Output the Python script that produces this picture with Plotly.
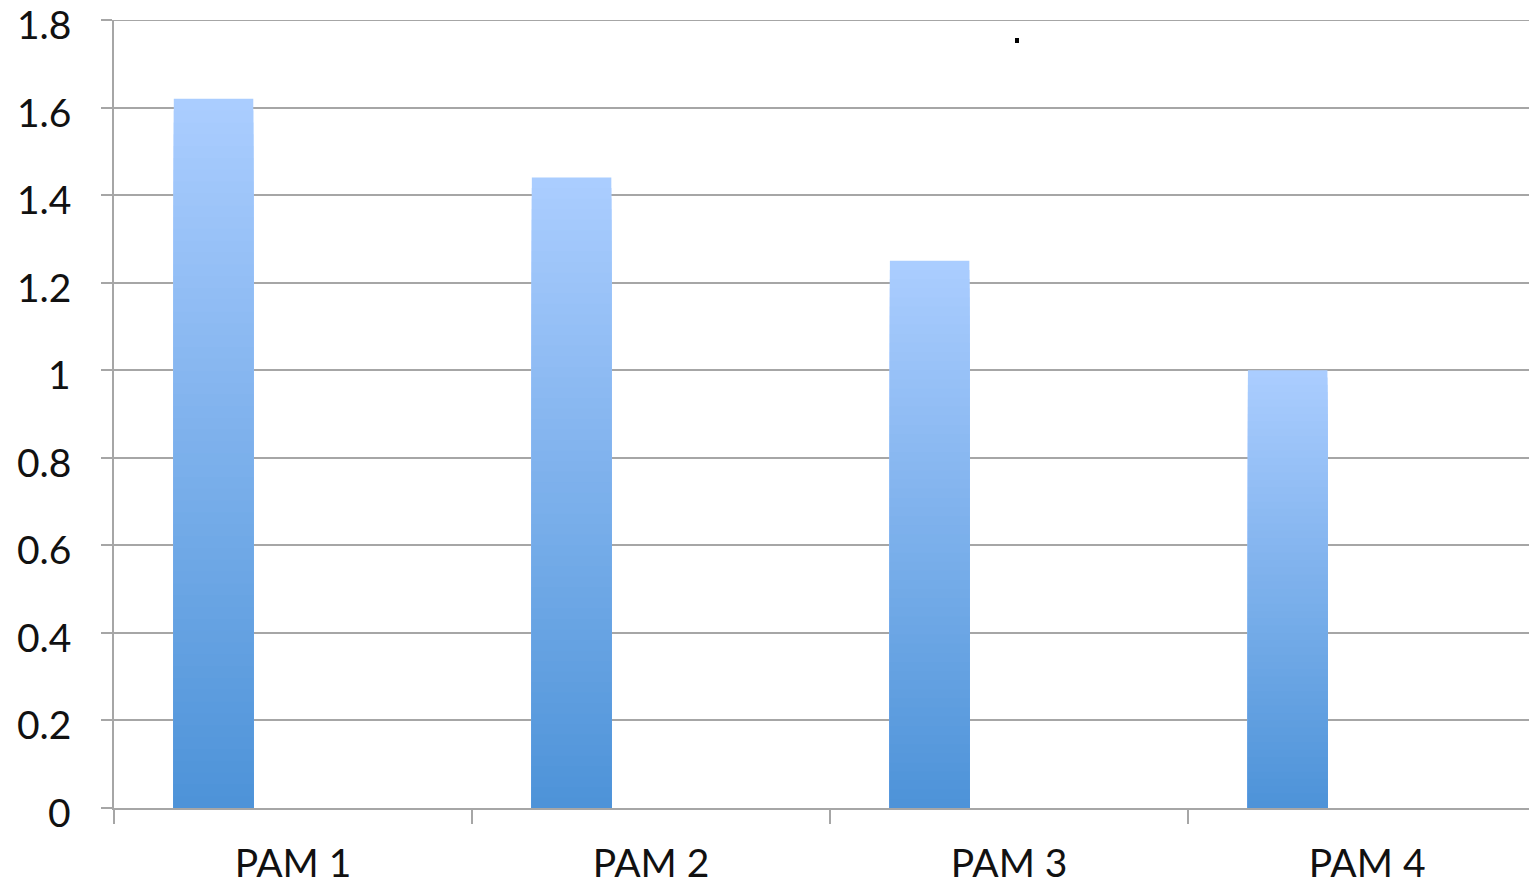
import plotly.graph_objects as go

categories = ["PAM 1", "PAM 2", "PAM 3", "PAM 4"]
values = [1.62, 1.44, 1.25, 1.0]
y_tickvals = [0, 0.2, 0.4, 0.6, 0.8, 1.0, 1.2, 1.4, 1.6, 1.8]
y_ticktext = ["0", "0.2", "0.4", "0.6", "0.8", "1", "1.2", "1.4", "1.6", "1.8"]

TOP = (171, 205, 255)
BOTTOM = (77, 147, 216)
N = 60
GRID = "#A6A6A6"
TEXT = "#111111"
FONT = "Lato, 'Open Sans', sans-serif"

def mix(t):
    r = [round(BOTTOM[i] + (TOP[i] - BOTTOM[i]) * t) for i in range(3)]
    return f"rgb({r[0]},{r[1]},{r[2]})"

xs, ys, cols = [], [], []
for k in range(N):
    frac = 1 - k / N
    for c, v in zip(categories, values):
        xs.append(c)
        ys.append(v * frac)
        cols.append(mix(frac - 0.5 / N))

fig = go.Figure()
fig.add_trace(go.Bar(
    x=xs, y=ys,
    width=0.222, offset=-0.333,
    marker=dict(color=cols, line=dict(width=0)),
    hoverinfo="skip", showlegend=False,
))

fig.update_layout(
    width=1529, height=884,
    margin=dict(l=114, r=0, t=20, b=76, autoexpand=False),
    paper_bgcolor="white", plot_bgcolor="white",
    barmode="overlay",
    showlegend=False,
    font=dict(family=FONT, size=39, color=TEXT),
    xaxis=dict(
        type="category",
        categoryorder="array", categoryarray=categories,
        range=[-0.5, 3.452],
        tickson="boundaries",
        ticks="outside", ticklen=14, tickwidth=2, tickcolor=GRID,
        showline=True, linecolor=GRID, linewidth=2,
        showgrid=False,
        tickfont=dict(size=39),
        ticklabelstandoff=20,
        automargin=False,
    ),
    yaxis=dict(
        range=[0, 1.8],
        tickvals=y_tickvals,
        showticklabels=False,
        ticks="outside", ticklen=11, tickwidth=2, tickcolor=GRID,
        showline=True, linecolor=GRID, linewidth=2,
        showgrid=True, gridcolor=GRID, gridwidth=2,
        zeroline=False,
        automargin=False,
    ),
)
# y tick labels (sit slightly below their gridlines, as in the reference)
for v, t in zip(y_tickvals, y_ticktext):
    fig.add_annotation(x=0, xref="paper", y=v, yref="y", text=t,
                       showarrow=False, xanchor="right", yanchor="middle",
                       xshift=-41, yshift=-4,
                       font=dict(family=FONT, size=39, color=TEXT))
# top gridline at the last tick value (plotly omits grid at the range edge)
fig.add_shape(type="line", xref="paper", yref="y",
              x0=0, x1=1, y0=y_tickvals[-1], y1=y_tickvals[-1],
              line=dict(color=GRID, width=2), layer="below")
fig.add_shape(type="rect", xref="paper", yref="paper",
              x0=(1015 - 114) / 1415, x1=(1019 - 114) / 1415,
              y0=(808 - 43) / 788, y1=(808 - 38) / 788,
              fillcolor="black", line=dict(width=0))

fig.write_html(
    "out.html",
    config={"displayModeBar": False},
    post_script="document.body.style.margin='0';document.body.style.overflow='hidden';",
)
